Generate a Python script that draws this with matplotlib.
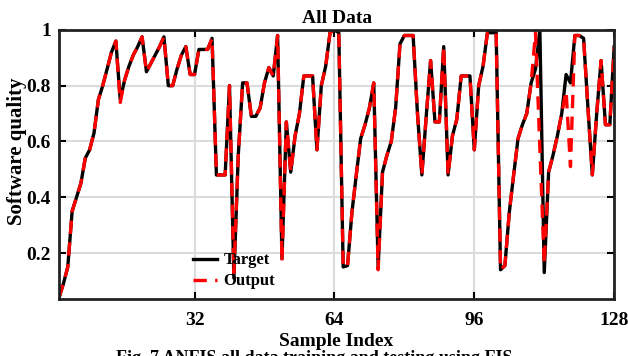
import matplotlib
matplotlib.use("Agg")
import matplotlib.pyplot as plt
import numpy as np

# sample index 1..128
sample_idx = np.arange(1, 129)

target = [
    0.04, 0.09, 0.15, 0.35, 0.40, 0.45, 0.54, 0.57, 0.63, 0.75,
    0.80, 0.86, 0.92, 0.96, 0.75, 0.82, 0.87, 0.91, 0.94, 0.975,
    0.85, 0.88, 0.91, 0.94, 0.975, 0.80, 0.80, 0.86, 0.91, 0.94,
    0.84, 0.84, 0.93, 0.93, 0.93, 0.97, 0.48, 0.48, 0.48, 0.80,
    0.11, 0.55, 0.81, 0.81, 0.69, 0.69, 0.72, 0.81, 0.865, 0.835,
    0.98, 0.18, 0.67, 0.49, 0.62, 0.70, 0.835, 0.835, 0.835, 0.57,
    0.80, 0.87, 0.99, 1.0, 0.99, 0.15, 0.155, 0.345, 0.48, 0.61,
    0.66, 0.72, 0.81, 0.15, 0.49, 0.55, 0.60, 0.72, 0.95, 0.98,
    0.98, 0.98, 0.70, 0.48, 0.69, 0.89, 0.67, 0.67, 0.94, 0.48,
    0.62, 0.68, 0.835, 0.835, 0.835, 0.57, 0.80, 0.87, 0.99, 0.99,
    0.99, 0.14, 0.155, 0.345, 0.48, 0.61, 0.66, 0.70, 0.81, 0.86,
    1.0, 0.13, 0.49, 0.55, 0.62, 0.70, 0.84, 0.81, 0.98, 0.98,
    0.97, 0.72, 0.48, 0.70, 0.89, 0.66, 0.66, 0.94,
]

output = [
    0.04, 0.09, 0.15, 0.35, 0.40, 0.45, 0.54, 0.57, 0.63, 0.75,
    0.80, 0.86, 0.92, 0.96, 0.74, 0.82, 0.87, 0.91, 0.94, 0.975,
    0.85, 0.88, 0.91, 0.94, 0.975, 0.80, 0.80, 0.86, 0.91, 0.94,
    0.84, 0.84, 0.93, 0.93, 0.93, 0.97, 0.48, 0.48, 0.48, 0.80,
    0.13, 0.55, 0.81, 0.81, 0.69, 0.69, 0.72, 0.81, 0.865, 0.835,
    0.98, 0.17, 0.67, 0.49, 0.62, 0.70, 0.835, 0.835, 0.835, 0.57,
    0.80, 0.87, 0.99, 1.0, 0.99, 0.15, 0.155, 0.345, 0.48, 0.61,
    0.66, 0.72, 0.81, 0.14, 0.49, 0.55, 0.60, 0.72, 0.95, 0.98,
    0.98, 0.98, 0.70, 0.48, 0.69, 0.89, 0.67, 0.67, 0.94, 0.48,
    0.62, 0.68, 0.835, 0.835, 0.835, 0.57, 0.80, 0.87, 0.99, 0.99,
    0.99, 0.14, 0.155, 0.345, 0.48, 0.61, 0.66, 0.70, 0.81, 0.99,
    0.57, 0.16, 0.49, 0.55, 0.62, 0.70, 0.78, 0.51, 0.98, 0.98,
    0.97, 0.72, 0.48, 0.70, 0.89, 0.66, 0.66, 0.94,
]

x_ticks = [32, 64, 96, 128]
y_ticks = [0.2, 0.4, 0.6, 0.8, 1.0]
y_tick_labels = ["0.2", "0.4", "0.6", "0.8", "1"]

plt.rcParams["font.family"] = ["Liberation Serif", "DejaVu Serif"]
plt.rcParams["font.weight"] = "bold"

fig = plt.figure(figsize=(6.28, 3.56), dpi=100)
ax = fig.add_axes([0.094, 0.160, 0.884, 0.756])

ax.plot(sample_idx, target, color="black", linewidth=2.4, label="Target")
ax.plot(sample_idx, output, color="#ff0000", linewidth=2.4,
        linestyle=(0, (4, 2.5)), label="Output")

ax.set_xlim(1, 128)
ax.set_ylim(0.035, 1.0)
ax.set_xticks(x_ticks)
ax.set_yticks(y_ticks)
ax.set_yticklabels(y_tick_labels)
ax.grid(True, color="#dcdcdc", linewidth=1.5)
ax.set_axisbelow(True)

ax.tick_params(direction="in", top=True, right=True, length=5, width=1.5,
               labelsize=14)
ax.tick_params(axis="x", pad=9)
ax.tick_params(axis="y", pad=6)
for s in ax.spines.values():
    s.set_linewidth(2)
    s.set_color("#222222")

ax.set_title("All Data", fontsize=14, fontweight="bold", pad=5)
ax.set_xlabel("Sample Index", fontsize=14, fontweight="bold", labelpad=3)
ax.set_ylabel("Software quality", fontsize=15, fontweight="bold")
ax.yaxis.set_label_coords(-0.058, 0.55)

leg = ax.legend(loc="lower left", bbox_to_anchor=(0.215, -0.02), frameon=False,
                fontsize=12, handlelength=1.4, handletextpad=0.4,
                labelspacing=0.3)

# caption, cut off at the bottom edge like in the source
fig.text(0.50, -0.008, "Fig. 7 ANFIS all data training and testing using FIS",
         ha="center", va="center", fontsize=13, fontweight="bold")

fig.savefig("out.png", dpi=100)
